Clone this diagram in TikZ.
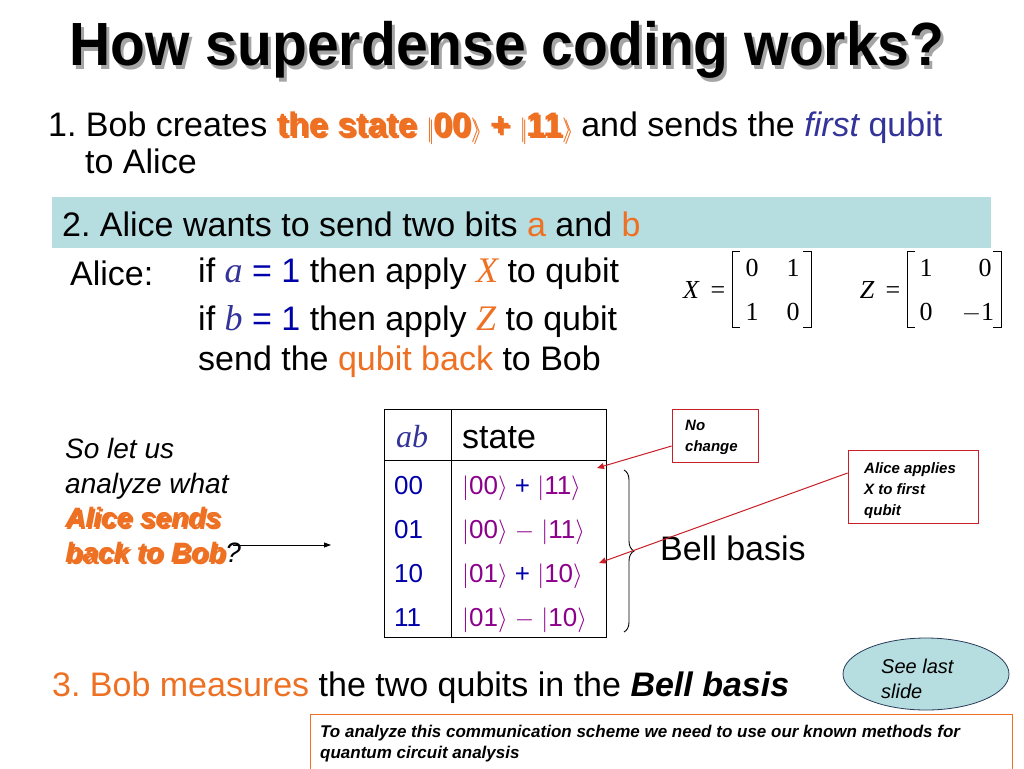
\documentclass[tikz,border=0pt]{standalone}
\usepackage{fontspec}
\usepackage{amsmath}
\usepackage{graphicx}
\setmainfont{Liberation Sans}
\newfontfamily\tms{Liberation Serif}
\usetikzlibrary{shapes.geometric,decorations.pathreplacing,arrows.meta}
\definecolor{orng}{RGB}{238,112,35}
\definecolor{tealb}{RGB}{182,221,224}
\definecolor{navy}{RGB}{51,51,153}
\definecolor{blu}{RGB}{0,0,170}
\definecolor{purp}{RGB}{140,0,140}
\definecolor{redb}{RGB}{200,30,40}
\definecolor{shd}{RGB}{165,165,165}
\definecolor{shdl}{RGB}{200,200,200}
\newcommand{\kt}[1]{$|$#1$\rangle$}
\newcommand{\shdw}[3]{\rlap{\hspace{#1}\raisebox{-#1}{\color{#2}#3}}#3}
\frenchspacing
\begin{document}
\begin{tikzpicture}[x=1pt,y=-1pt,
  txt/.style={anchor=base west, inner sep=0pt, font=\fontsize{34}{40}\selectfont},
  mtx/.style={anchor=base, inner sep=0pt, font=\tms\fontsize{26}{30}\selectfont},
  tbl/.style={anchor=base west, inner sep=0pt, font=\fontsize{26}{30}\selectfont},
  note/.style={anchor=base west, inner sep=0pt, font=\bfseries\itshape\fontsize{15}{21}\selectfont},
  lefttxt/.style={anchor=base west, inner sep=0pt, font=\itshape\fontsize{28}{32}\selectfont},
  redbox/.style={draw=redb, fill=white, line width=0.8pt},
  redarr/.style={draw=redb, line width=1pt, -{Triangle[length=7pt,width=6pt]}},
  blkarr/.style={draw=black, line width=0.8pt, -{Triangle[length=7pt,width=5pt]}}]
\useasboundingbox (0,0) rectangle (1024,768);
\fill[white] (0,0) rectangle (1024,768);

% title
\node[anchor=base, inner sep=0pt, font=\bfseries\fontsize{61}{70}\selectfont] (title) at (507,66) {\shdw{3pt}{shd}{\scalebox{0.935}[1]{How superdense coding works?}}};

% line 1
\node[txt] (l1) at (48,136) {1. Bob creates {\bfseries\shdw{2pt}{shdl}{\color{orng}the state \kt{00} + \kt{11}}} and sends the {\color{navy}\itshape first} {\color{navy}qubit}};
\node[txt] (l1b) at (85,173) {to Alice};

% band
\fill[tealb] (52,197) rectangle (991,248);
\node[txt] (l2) at (62,236) {2. Alice wants to send two bits {\color{orng}a} and {\color{orng}b}};

% Alice lines
\node[txt] (alice) at (70,285) {Alice:};
\node[txt] (al1) at (198,282) {if {\color{navy}\tms\itshape\fontsize{36}{36}\selectfont a} {\color{blu}= 1} then apply {\color{orng}\tms\itshape\fontsize{36}{36}\selectfont X} to qubit};
\node[txt] (al2) at (198,330) {if {\color{navy}\tms\itshape\fontsize{36}{36}\selectfont b} {\color{blu}= 1} then apply {\color{orng}\tms\itshape\fontsize{36}{36}\selectfont Z} to qubit};
\node[txt] (al3) at (198,370) {send the {\color{orng}qubit back} to Bob};

% matrices
\node[mtx, font=\tms\itshape\fontsize{26}{30}\selectfont] (mx) at (691,298) {X};
\node[mtx] (mxeq) at (718,298) {=};
\draw[line width=0.8pt] (740,251) -- (732,251) -- (732,327) -- (740,327);
\draw[line width=0.8pt] (803,251) -- (811,251) -- (811,327) -- (803,327);
\node[mtx] (x11) at (752,276) {0};
\node[mtx] (x12) at (793,276) {1};
\node[mtx] (x21) at (752,320) {1};
\node[mtx] (x22) at (793,320) {0};
\node[mtx, font=\tms\itshape\fontsize{26}{30}\selectfont] (mz) at (867,298) {Z};
\node[mtx] (mzeq) at (893,298) {=};
\draw[line width=0.8pt] (915,251) -- (907,251) -- (907,327) -- (915,327);
\draw[line width=0.8pt] (993,251) -- (1001,251) -- (1001,327) -- (993,327);
\node[mtx] (z11) at (926,276) {1};
\node[mtx] (z12) at (985,276) {0};
\node[mtx] (z21) at (926,320) {0};
\node[mtx] (z22) at (978,320) {$-$1};

% table
\draw[line width=1pt] (384,409) rectangle (606,637);
\draw[line width=1pt] (451,409) -- (451,637);
\draw[line width=1pt] (384,460) -- (606,460);
\node[anchor=base, inner sep=0pt, font=\tms\itshape\fontsize{32}{36}\selectfont, text=navy] (hab) at (412,447) {ab};
\node[txt] (hst) at (462,448) {state};
\node[tbl, text=blu] (r1) at (394,494) {00};
\node[tbl, text=blu] (r2) at (394,538) {01};
\node[tbl, text=blu] (r3) at (394,582) {10};
\node[tbl, text=blu] (r4) at (394,626) {11};
\node[tbl, text=purp] (s1) at (462,494) {\kt{00} {\color{blu}+} \kt{11}};
\node[tbl, text=purp] (s2) at (462,538) {\kt{00} $-$ \kt{11}};
\node[tbl, text=purp] (s3) at (462,582) {\kt{01} {\color{blu}+} \kt{10}};
\node[tbl, text=purp] (s4) at (462,626) {\kt{01} $-$ \kt{10}};

% brace
\draw[line width=0.9pt, decorate, decoration={brace, amplitude=10pt}] (624,470) -- (624,632);
\node[txt] (bell) at (660,560) {Bell basis};

% note boxes
\node[redbox, minimum width=86pt, minimum height=53pt] (nochange) at (715,435.5) {};
\node[note] (nc1) at (685,430) {No};
\node[note] (nc2) at (685,451) {change};
\node[redbox, minimum width=130pt, minimum height=73pt] (applies) at (913,486.5) {};
\node[note] (ap1) at (864,473) {Alice applies};
\node[note] (ap2) at (864,494) {X to first};
\node[note] (ap3) at (864,515) {qubit};
\coordinate (tip1) at (597,468);
\coordinate (tip2) at (599,563);
\draw[redarr] (nochange.west |- 0,446) -- (tip1);
\draw[redarr] (applies.west |- 0,473) -- (tip2);

% left text
\node[lefttxt] (so1) at (65,458) {So let us};
\node[lefttxt] (so2) at (65,493) {analyze what};
\node[lefttxt] (so3) at (65,527) {{\bfseries\shdw{2pt}{shdl}{\color{orng}Alice sends}}};
\node[lefttxt] (so4) at (65,562) {{\bfseries\shdw{2pt}{shdl}{\color{orng}back to Bob}}?};
\coordinate (arrs) at (233,545);
\coordinate (arre) at (331,545);
\draw[blkarr] (arrs) -- (arre);

% step 3
\node[txt] (l3) at (52,696) {{\color{orng}3. Bob measures} the two qubits in the {\bfseries\itshape Bell basis}};

% ellipse
\node[ellipse, draw={rgb,255:red,40;green,60;blue,90}, fill=tealb, line width=0.8pt, minimum width=166pt, minimum height=72pt] (see) at (926,674) {};
\node[anchor=base west, inner sep=0pt, font=\itshape\fontsize{20}{25}\selectfont] (see1) at (881,673) {See last};
\node[anchor=base west, inner sep=0pt, font=\itshape\fontsize{20}{25}\selectfont] (see2) at (881,698) {slide};

% bottom box
\draw[draw=orng, line width=1pt, fill=white] (310,714) rectangle (1012,775);
\node[note, font=\bfseries\itshape\fontsize{17}{21}\selectfont] (bot1) at (320,737) {To analyze this communication scheme we need to use our known methods for};
\node[note, font=\bfseries\itshape\fontsize{17}{21}\selectfont] (bot2) at (320,758) {quantum circuit analysis};
\end{tikzpicture}
\end{document}
